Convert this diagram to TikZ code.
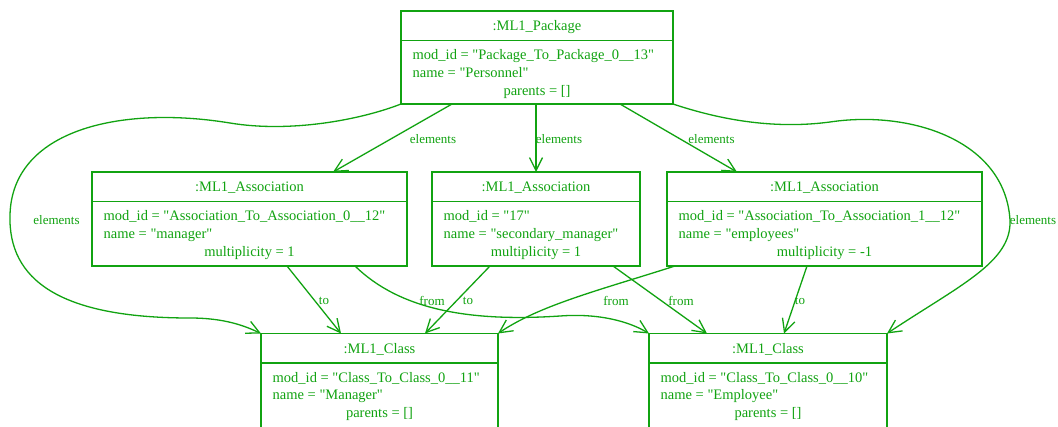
\documentclass[tikz,border=0pt]{standalone}
\usepackage{fontspec}
\setmainfont{Liberation Serif}[Ligatures=TeXOff]
\usetikzlibrary{arrows.meta,calc}
\definecolor{ink}{RGB}{17,163,17}
\tikzset{
  objbox/.style={draw=ink, line width=1.4pt, rectangle, inner sep=0pt, outer sep=0pt},
  rule/.style={draw=ink, line width=1.4pt},
  txt/.style={text=ink, inner sep=0pt, font=\fontsize{14.5}{17}\selectfont},
  lbl/.style={text=ink, inner sep=0pt, font=\fontsize{13}{15}\selectfont},
  link/.style={draw=ink, line width=1.3pt, -{Straight Barb[length=13pt,width=13pt]}},
}
% object box: name, x, y (north west), width, height, title, two left lines, one centred line
\newcommand\umlobject[9]{%
  \node[objbox, anchor=north west, minimum width=#4pt, minimum height=#5pt] (#1) at (#2,#3) {};
  \draw[rule] ($(#1.north west)+(0,29.5)$) -- ($(#1.north east)+(0,29.5)$);
  \node[txt, anchor=base] (#1-title) at ($(#1.north)+(0,19.5)$) {#6};
  \node[txt, anchor=base west] (#1-a) at ($(#1.north west)+(11.5,48.5)$) {#7};
  \node[txt, anchor=base west] (#1-b) at ($(#1.north west)+(11.5,66)$) {#8};
  \node[txt, anchor=base] (#1-c) at ($(#1.north)+(0,84)$) {#9};
}
\begin{document}
\begin{tikzpicture}[x=1pt,y=-1pt]
\useasboundingbox (0,0) rectangle (1058,426);
\fill[white] (0,0) rectangle (1058,426);
\clip (0,0) rectangle (1058,426);

\umlobject{pkg}{401}{11}{272}{93}{:ML1\_Package}
  {mod\_id = "Package\_To\_Package\_0\_\_13"}{name = "Personnel"}{parents = []}
\umlobject{a1}{92}{172}{315}{94}{:ML1\_Association}
  {mod\_id = "Association\_To\_Association\_0\_\_12"}{name = "manager"}{multiplicity = 1}
\umlobject{a2}{432}{172}{208}{94}{:ML1\_Association}
  {mod\_id = "17"}{name = "secondary\_manager"}{multiplicity = 1}
\umlobject{a3}{667}{172}{315}{94}{:ML1\_Association}
  {mod\_id = "Association\_To\_Association\_1\_\_12"}{name = "employees"}{multiplicity = -1}
\umlobject{c1}{261}{333.5}{237}{120}{:ML1\_Class}
  {mod\_id = "Class\_To\_Class\_0\_\_11"}{name = "Manager"}{parents = []}
\umlobject{c2}{649}{333.5}{238}{120}{:ML1\_Class}
  {mod\_id = "Class\_To\_Class\_0\_\_10"}{name = "Employee"}{parents = []}

% package elements
\draw[link] ($(pkg.south west)+(51,0)$) -- ($(a1.north west)+(241,0)$)
  node[lbl] (l1) at (433,139.5) {elements};
\draw[link] ($(pkg.south west)+(135,0)$) -- (a2.north)
  node[lbl] (l2) at (559,139.5) {elements};
\draw[link] ($(pkg.south west)+(219,0)$) -- ($(a3.north west)+(70,0)$)
  node[lbl] (l3) at (711.5,139.5) {elements};
\draw[link] (pkg.south west) .. controls (360,120) and (290,133) .. (230,123)
  .. controls (120,105) and (12,130) .. (10,215)
  .. controls (8,280) and (60,318) .. (190,318)
  .. controls (225,318) and (245,326) .. (c1.north west)
  node[lbl] (l4) at (56.5,220) {elements};
\draw[link] (pkg.south east) .. controls (715,118) and (770,130) .. (830,122)
  .. controls (910,110) and (1005,140) .. (1010,220)
  .. controls (1012,262) and (960,285) .. (c2.north east)
  node[lbl] (l5) at (1033,220) {elements};

% association ends
\draw[link] ($(a1.south west)+(195,0)$) -- ($(c1.north west)+(80,0)$)
  node[lbl] (l6) at (324,301) {to};
\draw[link] ($(a1.south west)+(263,0)$) .. controls (400,310) and (470,322) .. (560,316)
  .. controls (600,313) and (630,322) .. (c2.north west)
  node[lbl] (l7) at (432,301) {from};
\draw[link] ($(a2.south west)+(58,0)$) -- ($(c1.north west)+(164,0)$)
  node[lbl] (l8) at (468,301) {to};
\draw[link] ($(a2.south west)+(181,0)$) -- ($(c2.north west)+(58,0)$)
  node[lbl] (l9) at (681,301) {from};
\draw[link] ($(a3.south west)+(140,0)$) -- ($(c2.north west)+(135,0)$)
  node[lbl] (l10) at (800,301) {to};
\draw[link] ($(a3.south west)+(8,0)$) .. controls (600,290) and (540,305) .. (c1.north east)
  node[lbl] (l11) at (616,301) {from};
\end{tikzpicture}
\end{document}
